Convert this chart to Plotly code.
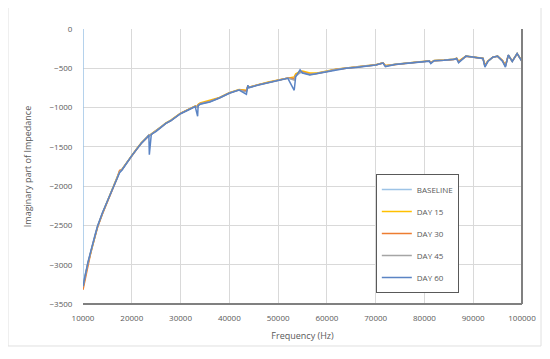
import plotly.graph_objects as go

# Frequencies (Hz)
freq = [10000, 10500, 11000, 11500, 12000, 12500, 13000, 14000, 15000, 16000,
        17000, 17500, 18000, 19000, 20000, 21000, 22000, 23000, 23500, 23600,
        24000, 25000, 26000, 27000, 28000, 30000, 32000, 33000, 33500, 33600,
        34000, 36000, 38000, 40000, 42000, 43500, 43800, 44000, 46000, 48000,
        50000, 52000, 53300, 53600, 54500, 55000, 56500, 58000, 60000, 62000,
        64000, 66000, 68000, 70000, 71500, 72000, 74000, 76000, 78000, 80000,
        81000, 81300, 82000, 84000, 86000, 86600, 87000, 88500, 90000, 91000,
        92000, 92400, 93000, 94000, 95000, 96000, 96600, 97200, 98000, 99000,
        100000]

baseline = [-3270, -3110, -2980, -2860, -2730, -2610, -2510, -2340, -2190, -2040,
            -1890, -1820, -1790, -1700, -1610, -1530, -1450, -1390, -1350, -1360,
            -1340, -1300, -1250, -1200, -1165, -1075, -1015, -985, -990, -975,
            -955, -925, -875, -815, -775, -790, -730, -745, -710, -680,
            -655, -625, -640, -600, -560, -555, -580, -565, -540, -512,
            -498, -488, -470, -458, -432, -470, -450, -438, -425, -415,
            -408, -430, -403, -398, -388, -378, -420, -348, -360, -368,
            -375, -470, -412, -362, -348, -405, -470, -335, -412, -315,
            -410]

day15 = [-3290, -3130, -2990, -2870, -2740, -2620, -2515, -2345, -2195, -2045,
         -1895, -1810, -1785, -1695, -1605, -1525, -1445, -1385, -1345, -1350,
         -1335, -1295, -1245, -1195, -1160, -1070, -1010, -980, -985, -960,
         -940, -905, -870, -810, -770, -780, -725, -740, -705, -675,
         -650, -620, -610, -570, -540, -535, -560, -560, -535, -510,
         -495, -485, -468, -455, -430, -465, -448, -435, -422, -412,
         -405, -425, -400, -395, -385, -372, -410, -345, -358, -365,
         -372, -460, -408, -358, -345, -400, -460, -332, -408, -312,
         -405]

day30 = [-3320, -3160, -3000, -2875, -2745, -2625, -2520, -2350, -2200, -2050,
         -1900, -1800, -1790, -1700, -1610, -1530, -1450, -1390, -1350, -1355,
         -1340, -1300, -1250, -1200, -1165, -1075, -1015, -985, -990, -965,
         -950, -920, -875, -815, -775, -785, -728, -742, -710, -680,
         -655, -625, -630, -590, -550, -548, -575, -565, -540, -512,
         -498, -488, -470, -458, -432, -468, -450, -438, -425, -415,
         -408, -428, -403, -398, -388, -375, -415, -348, -360, -368,
         -375, -465, -410, -360, -348, -402, -465, -335, -410, -315,
         -408]

day45 = [-3280, -3120, -2985, -2865, -2735, -2615, -2512, -2342, -2192, -2042,
         -1892, -1815, -1788, -1698, -1608, -1528, -1448, -1388, -1348, -1358,
         -1338, -1298, -1248, -1198, -1163, -1073, -1013, -983, -995, -970,
         -952, -922, -873, -813, -773, -800, -728, -743, -708, -678,
         -653, -623, -650, -595, -545, -552, -578, -563, -538, -511,
         -497, -487, -469, -457, -431, -472, -449, -437, -424, -414,
         -407, -432, -402, -397, -387, -376, -425, -347, -359, -367,
         -374, -475, -411, -361, -347, -406, -475, -334, -411, -314,
         -412]

day60 = [-3275, -3100, -2970, -2850, -2725, -2605, -2505, -2335, -2185, -2035,
         -1885, -1830, -1795, -1700, -1612, -1532, -1452, -1392, -1352, -1600,
         -1342, -1302, -1252, -1202, -1168, -1078, -1018, -988, -1110, -975,
         -958, -928, -878, -818, -778, -830, -715, -748, -713, -683,
         -658, -628, -780, -610, -520, -560, -585, -568, -543, -514,
         -500, -490, -471, -459, -433, -480, -451, -439, -426, -416,
         -409, -440, -404, -399, -389, -375, -430, -345, -360, -370,
         -376, -485, -414, -360, -345, -410, -485, -330, -415, -310,
         -415]

series_names = ["BASELINE", "DAY 15", "DAY 30", "DAY 45", "DAY 60"]
series_colors = ["#9DC3E6", "#FFC000", "#ED7D31", "#A5A5A5", "#5B84C4"]

# baseline starts with an initial point at 0 on the left edge
baseline_x = [freq[0]] + freq
baseline_y = [0] + baseline

xs = [baseline_x, freq, freq, freq, freq]
ys = [baseline_y, day15, day30, day45, day60]

fig = go.Figure()
for i, (name, col) in enumerate(zip(series_names, series_colors)):
    fig.add_trace(go.Scatter(
        x=xs[i], y=ys[i], mode="lines", name=name,
        line=dict(color=col, width=1.5),
        legendgroup=name,
    ))

FONT = "Open Sans, Liberation Sans, sans-serif"
tick_font = dict(family=FONT, size=8, color="#595959")

# page body has an 8px default margin, so the figure is sized to fit the window
fig.update_layout(
    width=542, height=351,
    margin=dict(l=75, r=28, t=21, b=55, autoexpand=False),
    paper_bgcolor="white", plot_bgcolor="white",
    showlegend=True,
    legend=dict(
        x=0.667, y=0.473, xanchor="left", yanchor="top",
        bordercolor="#595959", borderwidth=1, bgcolor="white",
        font=dict(family=FONT, size=8, color="#595959"),
        tracegroupgap=3, traceorder="grouped",
    ),
    xaxis=dict(
        range=[10000, 100000], dtick=10000, tick0=10000, tickformat="d",
        showgrid=True, gridcolor="#D9D9D9", gridwidth=1,
        zeroline=False, showline=False, automargin=False,
        ticks="outside", ticklen=6, tickcolor="rgba(0,0,0,0)",
        tickfont=tick_font,
        title=dict(text="Frequency (Hz)", font=dict(family=FONT, size=9, color="#595959"), standoff=11),
    ),
    yaxis=dict(
        range=[-3500, 0], dtick=500,
        showgrid=True, gridcolor="#D9D9D9", gridwidth=1,
        zeroline=False, showline=False, automargin=False,
        ticks="outside", ticklen=8, tickcolor="rgba(0,0,0,0)",
        tickfont=tick_font,
        title=dict(text="Imaginary part of Impedance", font=dict(family=FONT, size=9, color="#595959"), standoff=16),
    ),
    shapes=[
        dict(type="rect", xref="paper", yref="paper", x0=-0.1708, x1=1.0433, y0=-0.1527, y1=1.0836,
             line=dict(color="#E0E0E0", width=1), fillcolor="rgba(0,0,0,0)", layer="below"),
        dict(type="line", xref="paper", yref="paper", x0=0, x1=1, y0=0, y1=0,
             line=dict(color="#808080", width=2)),
        dict(type="line", xref="paper", yref="paper", x0=1, x1=1, y0=0, y1=1,
             line=dict(color="#808080", width=2)),
    ],
)

fig.write_html("out.html")
